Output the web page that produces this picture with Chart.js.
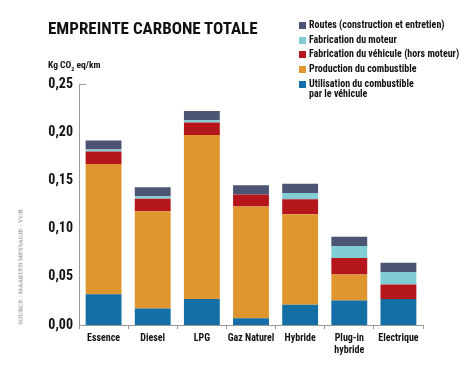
<!DOCTYPE html>
<html><head><meta charset="utf-8">
<script src="https://cdn.jsdelivr.net/npm/chart.js@4"></script>
<style>
html,body{margin:0;padding:0;background:#fff;}
#wrap{position:relative;width:474px;height:365px;overflow:hidden;}
#c{position:absolute;left:0;top:0;}
.t{position:absolute;font-family:"Roboto Condensed",sans-serif;font-weight:bold;color:#111;white-space:nowrap;}
#title{left:48px;top:17.5px;font-size:17px;line-height:20px;}
#unit{left:48px;top:58.5px;font-size:9.5px;}
#legend{position:absolute;left:299px;top:20px;font-family:"Roboto Condensed",sans-serif;font-weight:bold;font-size:10px;color:#111;white-space:nowrap;}
.li{position:relative;height:14.7px;line-height:10.5px;padding-left:10px;}
.sw{position:absolute;left:0;top:2px;width:7px;height:7px;}
#src{position:absolute;left:20px;top:267px;transform:translate(-50%,-50%) rotate(-90deg);font-family:"Liberation Serif","DejaVu Serif",serif;font-size:6.5px;color:#777;white-space:nowrap;}
</style></head>
<body><div id="wrap">
<canvas id="c" width="474" height="365"></canvas>
<div class="t" id="title">EMPREINTE CARBONE TOTALE</div>
<div class="t" id="unit">Kg CO<sub style="font-size:6px">2</sub> eq/km</div>
<div id="legend"></div>
<div id="src">SOURCE : MAARTEN MESSAGIE - VUB</div>
</div>
<script>
const categories = ["Essence","Diesel","LPG","Gaz Naturel","Hybride",["Plug-in","hybride"],"Electrique"];
const utilisation = [0.032,0.017,0.027,0.007,0.021,0.0255,0.027];
const production  = [0.135,0.101,0.170,0.116,0.094,0.027,0.0];
const vehicule    = [0.013,0.013,0.013,0.0125,0.0155,0.017,0.015];
const moteur      = [0.002,0.0025,0.0025,0.0,0.0065,0.0125,0.013];
const routes      = [0.0095,0.0095,0.0095,0.0095,0.0095,0.0095,0.0095];
const yTicks = [0,0.05,0.10,0.15,0.20,0.25];

const seriesLabels = ["Utilisation du combustible\npar le véhicule","Production du combustible","Fabrication du véhicule (hors moteur)","Fabrication du moteur","Routes (construction et entretien)"];
const seriesColors = ["#146fa6","#e0962f","#b4161c","#80cdd3","#4b5573"];
const seriesData = [utilisation,production,vehicule,moteur,routes];

const FONT = "'Roboto Condensed',sans-serif";

const datasets = seriesData.map((d,i)=>({label:seriesLabels[i],data:d,backgroundColor:seriesColors[i],borderWidth:0,barPercentage:0.73,categoryPercentage:1.0}));

const capPlugin = {id:'cap',afterDraw(chart){
  const y=chart.scales.y, ctx=chart.ctx;
  const py=Math.round(y.getPixelForValue(0.25))+0.5;
  ctx.save();ctx.strokeStyle='#999';ctx.lineWidth=1;
  ctx.beginPath();ctx.moveTo(y.right,py);ctx.lineTo(y.right+7,py);ctx.stroke();ctx.restore();
}};

new Chart(document.getElementById('c'),{
  type:'bar',
  data:{labels:categories,datasets},
  options:{
    responsive:false,animation:false,
    layout:{padding:{left:0,right:51,top:84,bottom:0}},
    plugins:{legend:{display:false},tooltip:{enabled:false}},
    scales:{
      x:{stacked:true,
        grid:{offset:true,drawOnChartArea:false,drawTicks:true,tickLength:4,color:'#999'},
        border:{display:true,color:'#999',width:1},
        ticks:{color:'#111',font:{family:FONT,weight:'bold',size:10,lineHeight:1.2},padding:3,maxRotation:0,autoSkip:false},
        afterFit(s){s.height=40;}
      },
      y:{stacked:true,min:0,max:0.25,
        afterBuildTicks(s){s.ticks=yTicks.map(v=>({value:v}));},
        grid:{display:false,drawTicks:false,tickLength:0},
        border:{display:true,color:'#999',width:1},
        ticks:{color:'#111',font:{family:FONT,weight:'bold',size:14},padding:6,
          callback:v=>v.toFixed(2).replace('.',',')},
        afterFit(s){s.width=79;}
      }
    }
  },
  plugins:[capPlugin]
});

const lg=document.getElementById('legend');
for(let i=seriesLabels.length-1;i>=0;i--){
  const d=document.createElement('div');d.className='li';
  d.innerHTML='<span class="sw" style="background:'+seriesColors[i]+'"></span>'+seriesLabels[i].replace('\n','<br>');
  lg.appendChild(d);
}
</script>
</body></html>
